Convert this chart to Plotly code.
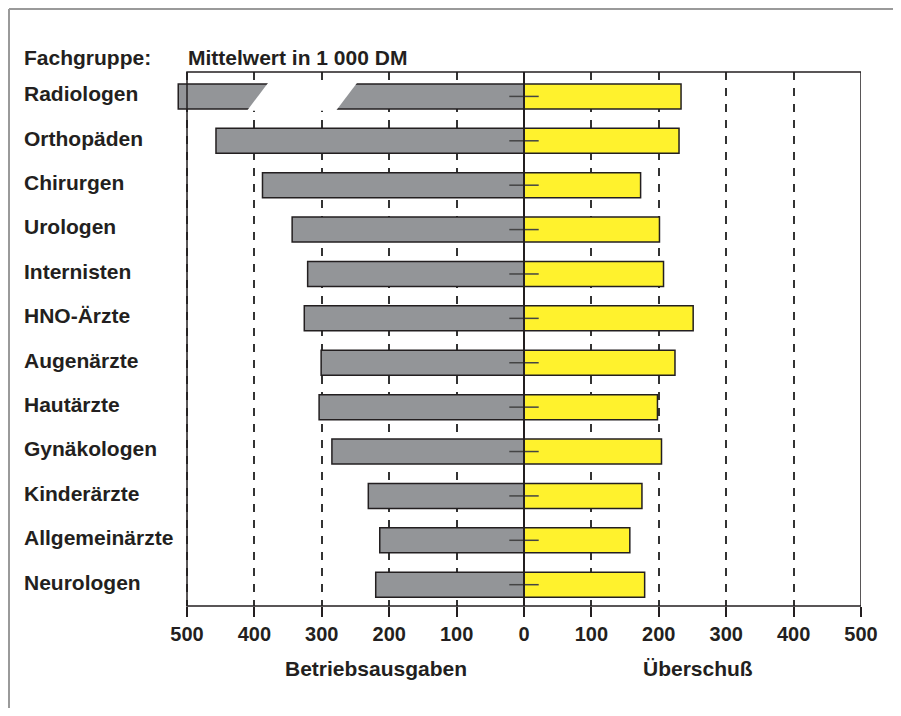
import plotly.graph_objects as go

# ---- data (Mittelwert in 1 000 DM) ----
fachgruppen = ["Radiologen", "Orthopäden", "Chirurgen", "Urologen", "Internisten",
               "HNO-Ärzte", "Augenärzte", "Hautärzte", "Gynäkologen", "Kinderärzte",
               "Allgemeinärzte", "Neurologen"]
# Radiologen bar is drawn truncated (axis break) in the original
betriebsausgaben = [513, 457, 388, 344, 321, 326, 301, 304, 285, 231, 214, 220]
ueberschuss = [233, 230, 173, 201, 207, 251, 224, 198, 204, 175, 157, 179]
tick_values = [-500, -400, -300, -200, -100, 0, 100, 200, 300, 400, 500]
tick_labels = [str(abs(v)) for v in tick_values]

FONT = "Liberation Sans, Arial, Helvetica, sans-serif"
DARK = "#231f20"
GRAY = "#939598"
YELLOW = "#fff22d"
BAR_W = 0.563

# layout geometry (page has an 8px body margin)
W, H = 885, 700
PX_PER_UNIT = 674 / 1000
OVERHANG = 10  # px the broken bar sticks out left of the frame
L = 179 - OVERHANG
T = 64
PLOT_W = 674 + OVERHANG
PLOT_H = 534
R = W - L - PLOT_W
B = H - T - PLOT_H
XMIN = -500 - OVERHANG / PX_PER_UNIT

def px_x(px):  # window px -> paper x
    return (px - 8 - L) / PLOT_W

def px_y(py):  # window px -> paper y
    return 1 - (py - 8 - T) / PLOT_H

pos = list(range(len(fachgruppen)))

fig = go.Figure()
fig.add_trace(go.Bar(
    y=pos, x=[-v for v in betriebsausgaben], orientation="h", width=BAR_W,
    marker=dict(color=GRAY, line=dict(color=DARK, width=1.5)),
    name="Betriebsausgaben", hoverinfo="skip"))
fig.add_trace(go.Bar(
    y=pos, x=ueberschuss, orientation="h", width=BAR_W,
    marker=dict(color=YELLOW, line=dict(color=DARK, width=1.5)),
    name="Überschuß", hoverinfo="skip"))
# small horizontal marks on the zero line
fig.add_trace(go.Scatter(
    y=pos, x=[0] * len(pos), mode="markers",
    marker=dict(symbol="line-ew", size=21, line=dict(color="#444444", width=1.5)),
    hoverinfo="skip", showlegend=False))

shapes = []
# zero line above bars
shapes.append(dict(type="line", xref="x", yref="paper", x0=0, x1=0, y0=0, y1=1,
                   line=dict(color=DARK, width=2), layer="above"))
# axis break on the Radiologen bar
h = BAR_W / 2
ext = 0.04
slant = 28.0 / BAR_W  # x units per y unit
lt, rt = -381.0, -249.0
ya, yb = -h - ext, h + ext
def xl(base, y):
    return base - slant * (y + h)
path = (f"M {xl(lt, ya)},{ya} L {xl(rt, ya)},{ya} "
        f"L {xl(rt, yb)},{yb} L {xl(lt, yb)},{yb} Z")
shapes.append(dict(type="path", xref="x", yref="y", path=path,
                   fillcolor="white", line=dict(width=0), layer="above"))
# plot frame (-500 .. 500)
shapes.append(dict(type="rect", xref="x", yref="paper", x0=-500, x1=500, y0=0, y1=1,
                   line=dict(color=DARK, width=1.5), fillcolor="rgba(0,0,0,0)",
                   layer="above"))
# outer frame of the figure (only top and left edges visible)
shapes.append(dict(type="line", xref="paper", yref="paper",
                   x0=px_x(9), x1=px_x(901), y0=px_y(9), y1=px_y(9),
                   line=dict(color="#9a9a9a", width=2), layer="below"))
shapes.append(dict(type="line", xref="paper", yref="paper",
                   x0=px_x(9), x1=px_x(9), y0=px_y(9), y1=px_y(716),
                   line=dict(color="#9a9a9a", width=2), layer="below"))

fnt = dict(family=FONT, size=21, color=DARK, weight="bold")
tfnt = dict(family=FONT, size=20, color=DARK, weight="bold")
annotations = []
for i, name in enumerate(fachgruppen):
    annotations.append(dict(text=name, xref="paper", yref="y", x=px_x(22),
                            y=i - 0.06, xanchor="left", yanchor="middle",
                            showarrow=False, font=fnt))
annotations.append(dict(text="Fachgruppe:", xref="paper", yref="paper",
                        x=px_x(22), y=px_y(57), xanchor="left",
                        yanchor="middle", showarrow=False, font=fnt))
annotations.append(dict(text="Mittelwert in 1 000 DM", xref="paper", yref="paper",
                        x=px_x(186), y=px_y(57), xanchor="left",
                        yanchor="middle", showarrow=False, font=fnt))
annotations.append(dict(text="Betriebsausgaben", xref="paper", yref="paper",
                        x=px_x(376), y=px_y(668), xanchor="center",
                        yanchor="middle", showarrow=False, font=fnt))
annotations.append(dict(text="Überschuß", xref="paper", yref="paper",
                        x=px_x(698), y=px_y(668), xanchor="center",
                        yanchor="middle", showarrow=False, font=fnt))

fig.update_layout(
    width=W, height=H,
    margin=dict(l=L, r=R, t=T, b=B, pad=0),
    paper_bgcolor="white", plot_bgcolor="white",
    barmode="overlay", showlegend=False,
    shapes=shapes, annotations=annotations,
    xaxis=dict(range=[XMIN, 500], tickmode="array", tickvals=tick_values,
               ticktext=tick_labels, ticks="outside", ticklen=10, tickwidth=1.5,
               tickcolor=DARK, showline=False,
               showgrid=True, gridcolor="#333333", gridwidth=1.5,
               griddash="8px,8px", zeroline=False,
               tickfont=tfnt),
    yaxis=dict(range=[11.48, -0.55], showticklabels=False, ticks="",
               showline=False, showgrid=False, zeroline=False),
)

fig.write_html("out.html")
